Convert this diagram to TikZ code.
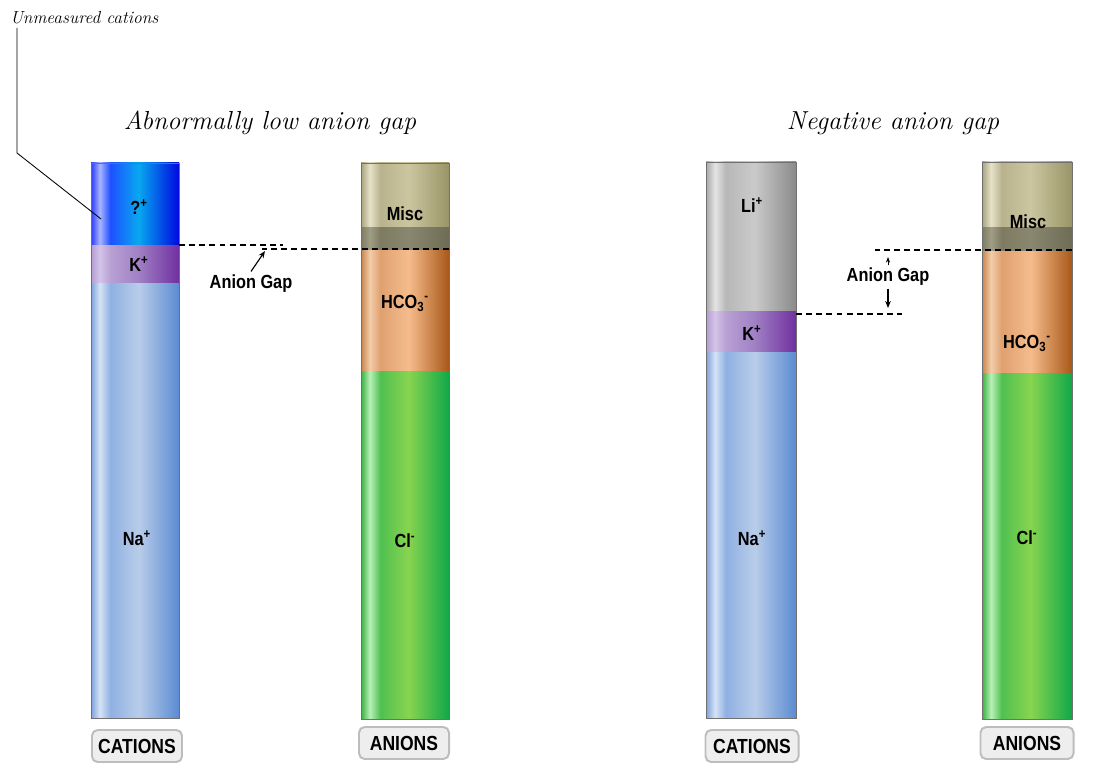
\documentclass[tikz,border=0pt]{standalone}
\usepackage{fontspec}
\usepackage{xcolor}
\usepackage{tikz}
\usetikzlibrary{arrows.meta}
\newfontfamily\ionfont[FakeStretch=0.86]{Liberation Sans}
% column colours: left edge, highlight, after highlight, middle, right edge
\definecolor{qL}{HTML}{2A3CFF}\definecolor{qH}{HTML}{A8B4FF}\definecolor{qA}{HTML}{1E50FF}\definecolor{qM}{HTML}{08A8F0}\definecolor{qR}{HTML}{0008E0}
\definecolor{naL}{HTML}{7EA2DC}\definecolor{naH}{HTML}{D6E3F5}\definecolor{naA}{HTML}{8FB0E2}\definecolor{naM}{HTML}{B9CDE9}\definecolor{naR}{HTML}{5B8BD2}
\definecolor{kL}{HTML}{B49CD2}\definecolor{kH}{HTML}{D4C4E8}\definecolor{kA}{HTML}{B8A0D4}\definecolor{kM}{HTML}{A080C4}\definecolor{kR}{HTML}{7030A0}
\definecolor{liL}{HTML}{A8A8A8}\definecolor{liH}{HTML}{E4E4E4}\definecolor{liA}{HTML}{B8B8B8}\definecolor{liM}{HTML}{CACACA}\definecolor{liR}{HTML}{8A8A8A}
\definecolor{miL}{HTML}{A8A27C}\definecolor{miH}{HTML}{E6E2C8}\definecolor{miA}{HTML}{B8B28E}\definecolor{miM}{HTML}{CCC6A0}\definecolor{miR}{HTML}{9A9468}
\definecolor{mdL}{HTML}{7F7C64}\definecolor{mdH}{HTML}{A09D85}\definecolor{mdA}{HTML}{7E7B62}\definecolor{mdM}{HTML}{8A8770}\definecolor{mdR}{HTML}{6F6C55}
\definecolor{hcL}{HTML}{C8844C}\definecolor{hcH}{HTML}{F2CDAA}\definecolor{hcA}{HTML}{E0A070}\definecolor{hcM}{HTML}{F6BC8C}\definecolor{hcR}{HTML}{A85818}
\definecolor{clL}{HTML}{38B040}\definecolor{clH}{HTML}{B8F0B8}\definecolor{clA}{HTML}{50C050}\definecolor{clM}{HTML}{88D450}\definecolor{clR}{HTML}{10A848}
\definecolor{rimgray}{HTML}{707070}
\definecolor{tagbg}{HTML}{EEEEEE}
\definecolor{tagrim}{HTML}{BDBDBD}
\newcommand{\cylshading}[1]{\pgfdeclarehorizontalshading{#1}{100bp}{color(0bp)=(#1L); color(25bp)=(#1L); color(30bp)=(#1H); color(36bp)=(#1A); color(52bp)=(#1M); color(75bp)=(#1R); color(100bp)=(#1R)}}
\cylshading{q}\cylshading{na}\cylshading{k}\cylshading{li}
\cylshading{mi}\cylshading{md}\cylshading{hc}\cylshading{cl}

\begin{document}
\begin{tikzpicture}[x=0.025cm, y=-0.025cm,
    ion/.style={font=\ionfont\bfseries\fontsize{13.5}{15}\selectfont, inner sep=1pt},
    heading/.style={font=\itshape\fontsize{18.5}{22}\selectfont, inner sep=0pt},
    tag/.style={draw=tagrim, fill=tagbg, line width=1.4pt, rounded corners=4pt,
                minimum width=2.25cm, minimum height=0.8cm, inner sep=0pt,
                font=\ionfont\bfseries\fontsize{14.5}{16}\selectfont},
    gapline/.style={dash pattern=on 4.2pt off 3pt, line width=0.9pt},
    gaparrow/.style={-{Stealth[length=5pt, width=4pt]}, line width=0.8pt},
    rim/.style={draw=rimgray, line width=0.7pt}
  ]
  \useasboundingbox (0,0) rectangle (1116,781);

  % headings
  \node[heading] (lowtitle) at (270,123) {Abnormally low anion gap};
  \node[heading] (negtitle) at (893,123) {Negative anion gap};
  \node[font=\itshape\fontsize{12.4}{14}\selectfont, anchor=west, inner sep=0pt] (unmeas) at (10,18) {Unmeasured cations};

  % abnormally low: cations
  \shade[shading=q]  (91,163) rectangle (179,245);
  \shade[shading=k]  (91,245) rectangle (179,283);
  \shade[shading=na] (91,283) rectangle (179,718);
  \draw[rim] (91,163) rectangle (179,718);
  % abnormally low: anions
  \shade[shading=mi] (361,163) rectangle (449,227);
  \shade[shading=md] (361,227) rectangle (449,250);
  \shade[shading=hc] (361,250) rectangle (449,371);
  \shade[shading=cl] (361,371) rectangle (449,719);
  \draw[rim] (361,163) rectangle (449,719);

  % negative: cations
  \shade[shading=li] (706,162) rectangle (796,311);
  \shade[shading=k]  (706,311) rectangle (796,352);
  \shade[shading=na] (706,352) rectangle (796,718);
  \draw[rim] (706,162) rectangle (796,718);
  % negative: anions
  \shade[shading=mi] (982,162) rectangle (1072,227);
  \shade[shading=md] (982,227) rectangle (1072,251);
  \shade[shading=hc] (982,251) rectangle (1072,373);
  \shade[shading=cl] (982,373) rectangle (1072,719);
  \draw[rim] (982,162) rectangle (1072,719);

  % ion labels
  \node[ion] (unk) at (139,207) {?\textsuperscript{+}};
  \node[ion] (k1)  at (139,264) {K\textsuperscript{+}};
  \node[ion] (na1) at (137,538) {Na\textsuperscript{+}};
  \node[ion] (mi1) at (405,214) {Misc};
  \node[ion] (hc1) at (405,303) {HCO\textsubscript{3}\textsuperscript{-}};
  \node[ion] (cl1) at (405,541) {Cl\textsuperscript{-}};
  \node[ion] (li2) at (752,205) {Li\textsuperscript{+}};
  \node[ion] (k2)  at (752,333) {K\textsuperscript{+}};
  \node[ion] (na2) at (752,538) {Na\textsuperscript{+}};
  \node[ion] (mi2) at (1028,222) {Misc};
  \node[ion] (hc2) at (1027,343) {HCO\textsubscript{3}\textsuperscript{-}};
  \node[ion] (cl2) at (1027,538) {Cl\textsuperscript{-}};

  % leader to the unmeasured cations
  \coordinate (leadtop) at (17,28);
  \coordinate (bend) at (17,153);
  \coordinate (unkpt) at (101,219);
  \draw[line width=0.6pt] (leadtop) -- (bend) -- (unkpt);

  % anion gap, abnormally low
  \coordinate (cat1) at (179,245);
  \coordinate (cat1end) at (283,245);
  \coordinate (an1) at (449,249);
  \coordinate (an1end) at (262,249);
  \coordinate (gap1tip) at (265,251);
  \draw[gapline] (cat1) -- (cat1end);
  \draw[gapline] (an1) -- (an1end);
  \node[ion] (gap1) at (251,284) {Anion Gap};
  \draw[gaparrow] (gap1.north) ++(0,-2) -- (gap1tip);

  % anion gap, negative
  \coordinate (cat2) at (796,314);
  \coordinate (cat2end) at (902,314);
  \coordinate (an2) at (1072,250);
  \coordinate (an2end) at (875,250);
  \coordinate (uptip) at (888,257);
  \coordinate (downtip) at (888,308);
  \draw[gapline] (cat2) -- (cat2end);
  \draw[gapline] (an2) -- (an2end);
  \node[ion] (gap2) at (888,277) {Anion Gap};
  \draw[-{Stealth[length=4pt, width=3pt]}, line width=0.7pt] (gap2.north -| uptip) ++(0,-1) -- (uptip);
  \draw[gaparrow] (gap2.south -| downtip) ++(0,1) -- (downtip);

  % column tags
  \node[tag] (cattag1) at (137,746) {CATIONS};
  \node[tag] (antag1)  at (404,743) {ANIONS};
  \node[tag, minimum width=2.325cm] (cattag2) at (752,746) {CATIONS};
  \node[tag, minimum width=2.325cm] (antag2)  at (1027,743) {ANIONS};
\end{tikzpicture}
\end{document}
